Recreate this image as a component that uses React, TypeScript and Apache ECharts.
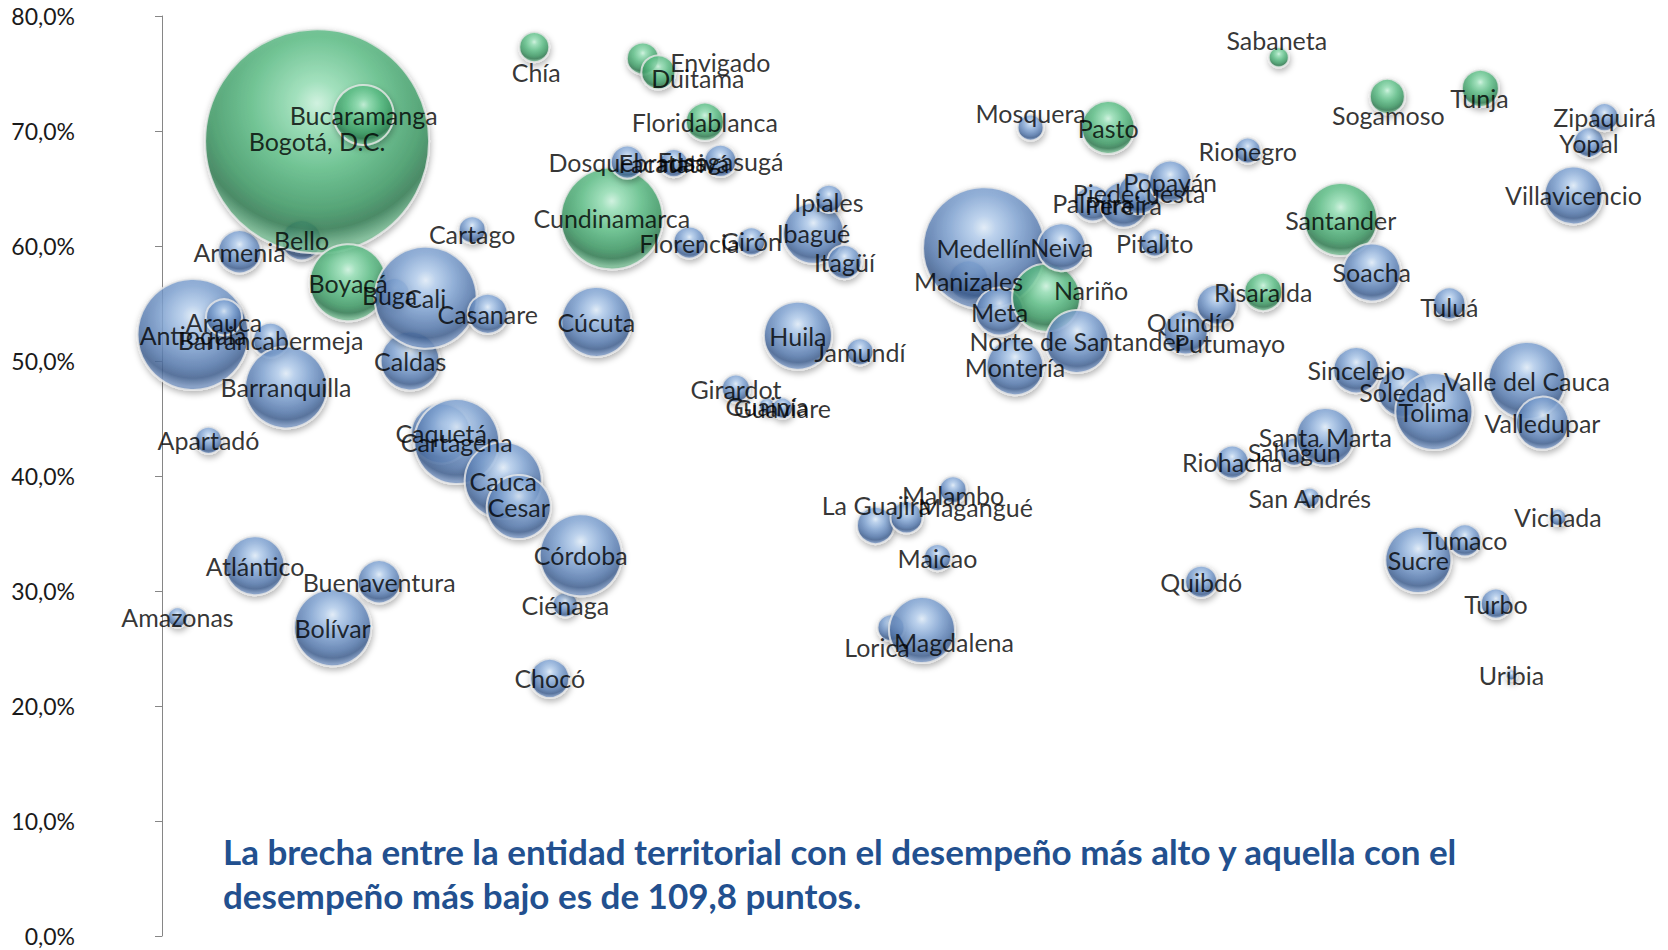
import React, { useEffect, useRef } from "react";
import * as echarts from "echarts";

// Entities in alphabetical order (x = position in this list)
const entities = [
  "Amazonas", "Antioquia", "Apartadó", "Arauca", "Armenia", "Atlántico", "Barrancabermeja", "Barranquilla",
  "Bello", "Bogotá, D.C.", "Bolívar", "Boyacá", "Bucaramanga", "Buenaventura", "Buga", "Caldas",
  "Cali", "Caquetá", "Cartagena", "Cartago", "Casanare", "Cauca", "Cesar", "Chía",
  "Chocó", "Ciénaga", "Córdoba", "Cúcuta", "Cundinamarca", "Dosquebradas", "Duitama", "Envigado",
  "Facatativá", "Florencia", "Floridablanca", "Fusagasugá", "Girardot", "Girón", "Guainía", "Guaviare",
  "Huila", "Ibagué", "Ipiales", "Itagüí", "Jamundí", "La Guajira", "Lorica", "Magangué",
  "Magdalena", "Maicao", "Malambo", "Manizales", "Medellín", "Meta", "Montería", "Mosquera",
  "Nariño", "Neiva", "Norte de Santander", "Palmira", "Pasto", "Pereira", "Piedecuesta", "Pitalito",
  "Popayán", "Putumayo", "Quibdó", "Quindío", "Riohacha", "Rionegro", "Risaralda", "Sabaneta",
  "Sahagún", "San Andrés", "Santa Marta", "Santander", "Sincelejo", "Soacha", "Sogamoso", "Soledad",
  "Sucre", "Tolima", "Tuluá", "Tumaco", "Tunja", "Turbo", "Uribia", "Valle del Cauca",
  "Valledupar", "Vichada", "Villavicencio", "Yopal", "Zipaquirá"
];

// Percentage (y axis)
const rates = [
  27.7, 52.3, 43.1, 53.8, 59.5, 32.2, 51.8, 47.7,
  60.5, 69.1, 26.8, 56.8, 71.4, 30.8, 55.9, 50.0,
  55.5, 43.7, 43.0, 61.4, 54.1, 39.6, 37.3, 77.3,
  22.4, 28.8, 33.1, 53.4, 62.4, 67.3, 76.3, 75.1,
  67.2, 60.3, 70.8, 67.4, 47.6, 60.4, 46.1, 45.9,
  52.2, 61.1, 64.1, 58.6, 50.8, 35.7, 26.8, 36.4,
  26.6, 32.9, 38.8, 57.0, 59.8, 54.3, 49.5, 70.3,
  55.5, 59.9, 51.7, 63.7, 70.3, 63.6, 64.6, 60.3,
  65.6, 52.5, 30.8, 54.9, 41.2, 68.3, 56.0, 76.4,
  42.1, 38.1, 43.4, 62.3, 49.2, 57.7, 73.0, 47.3,
  32.7, 45.6, 55.0, 34.4, 73.7, 28.9, 22.7, 48.3,
  44.6, 36.4, 64.4, 69.0, 71.2
];

// Bubble size values (area)
const sizes = [
  64, 1971, 117, 207, 296, 557, 196, 1076,
  256, 8028, 949, 949, 576, 296, 144, 557,
  1665, 576, 1156, 117, 256, 949, 655, 144,
  243, 100, 1076, 784, 1665, 174, 164, 185,
  125, 164, 231, 164, 125, 125, 41, 71,
  740, 595, 125, 185, 117, 219, 117, 164,
  697, 117, 117, 256, 2381, 369, 520, 108,
  740, 369, 635, 207, 449, 339, 282, 125,
  282, 310, 164, 256, 174, 108, 231, 64,
  125, 64, 538, 853, 339, 538, 196, 400,
  697, 949, 164, 164, 219, 144, 19, 949,
  449, 46, 538, 144, 125
];

const greenEntities = [
  "Bogotá, D.C.", "Bucaramanga", "Chía", "Duitama", "Envigado", "Floridablanca", "Cundinamarca",
  "Boyacá", "Pasto", "Nariño", "Sabaneta", "Sogamoso", "Tunja", "Santander", "Risaralda"
];

const noteLines = [
  "La brecha entre la entidad territorial con el desempeño más alto y aquella con el",
  "desempeño más bajo es de 109,8 puntos."
];

// label displacement (px) for labels that are not centred on their bubble
const labelOffsets: Record<string, number[]> = {
  "Chía": [2, 25],
  "Duitama": [55, 19],
  "Envigado": [62, -10],
  "Mosquera": [0, -15],
  "Sabaneta": [-2, -17],
  "Sogamoso": [1, 18],
  "Tunja": [-1, 10],
  "Nariño": [45, -8],
  "Quindío": [-26, 17],
  "Putumayo": [44, 11],
  "La Guajira": [1, -20],
  "Magangué": [69, -10],
  "Malambo": [0, 5],
  "Magdalena": [32, 12],
  "Lorica": [-14, 19],
  "Cartago": [0, 4],
  "Tuluá": [0, 3],
  "Ipiales": [0, 3],
  "Buga": [-5, 2],
  "Arauca": [0, 5]
};

const blueFill = {
  type: "radial", x: 0.5, y: 0.33, r: 0.64,
  colorStops: [
    { offset: 0, color: "#e4f0fc" },
    { offset: 0.15, color: "#b7d1f1" },
    { offset: 0.45, color: "#80a4d4" },
    { offset: 0.74, color: "#5579ae" },
    { offset: 0.88, color: "#3f5f90" },
    { offset: 1, color: "#7a97c3" }
  ]
};
const greenFill = {
  type: "radial", x: 0.5, y: 0.33, r: 0.64,
  colorStops: [
    { offset: 0, color: "#cff7e1" },
    { offset: 0.15, color: "#98e2b8" },
    { offset: 0.45, color: "#5ec088" },
    { offset: 0.74, color: "#3c9a64" },
    { offset: 0.88, color: "#2e7a50" },
    { offset: 1, color: "#76bb92" }
  ]
};

const FONT = "Lato, 'Open Sans', sans-serif";

export default function App() {
  const ref = useRef<HTMLDivElement>(null);
  useEffect(() => {
    if (!ref.current) return;
    const chart = echarts.init(ref.current, undefined, { renderer: "svg" });
    const points = entities.map((name, i) => [i + 1, rates[i], sizes[i]]);
    const bubbleData = entities.map((name, i) => ({
      name,
      value: points[i],
      itemStyle: { color: greenEntities.includes(name) ? greenFill : blueFill }
    }));
    const labelData = entities.map((name, i) => {
      const off = labelOffsets[name];
      return {
        name,
        value: points[i],
        label: off ? { offset: off } : undefined
      };
    });
    chart.setOption({
      animation: false,
      grid: { left: 162, right: 17, top: 16, bottom: 14, containLabel: false },
      xAxis: { type: "value", min: 0, max: 96, show: false },
      yAxis: {
        type: "value",
        min: 0,
        max: 80,
        interval: 10,
        axisLine: { show: true, lineStyle: { color: "#868686", width: 1 } },
        axisTick: { show: true, inside: false, length: 7, lineStyle: { color: "#868686" } },
        splitLine: { show: false },
        axisLabel: {
          margin: 87,
          color: "#1a1a1a",
          fontFamily: FONT,
          fontSize: 23,
          formatter: (v: number) => v.toFixed(1).replace(".", ",") + "%"
        }
      },
      series: [
        {
          type: "scatter",
          clip: false,
          data: bubbleData,
          symbol: "circle",
          symbolSize: (val: number[]) => Math.sqrt(val[2]) * 2.5,
          itemStyle: {
            borderColor: "#e8e8e8",
            borderWidth: 2,
            shadowColor: "rgba(0,0,0,0.35)",
            shadowBlur: 6,
            shadowOffsetX: 1,
            shadowOffsetY: 3
          },
          label: { show: false },
          emphasis: { disabled: true }
        },
        {
          type: "scatter",
          clip: false,
          z: 5,
          data: labelData,
          symbol: "circle",
          symbolSize: 2,
          itemStyle: { color: "rgba(0,0,0,0)" },
          label: {
            show: true,
            position: "inside",
            formatter: "{b}",
            color: "#000",
            fontFamily: FONT,
            fontSize: 25,
            textBorderWidth: 0
          },
          emphasis: { disabled: true }
        }
      ],
      graphic: noteLines.map((t, i) => ({
        type: "text",
        x: 223,
        y: 851 + i * 44,
        style: {
          text: t,
          fill: "#22508f",
          fontFamily: FONT,
          fontWeight: "bold",
          fontSize: 35,
          align: "left",
          verticalAlign: "middle"
        }
      }))
    });
    return () => chart.dispose();
  }, []);
  return (
    <div
      ref={ref}
      style={{ position: "absolute", left: 0, top: 0, width: 1668, height: 950 }}
    />
  );
}
